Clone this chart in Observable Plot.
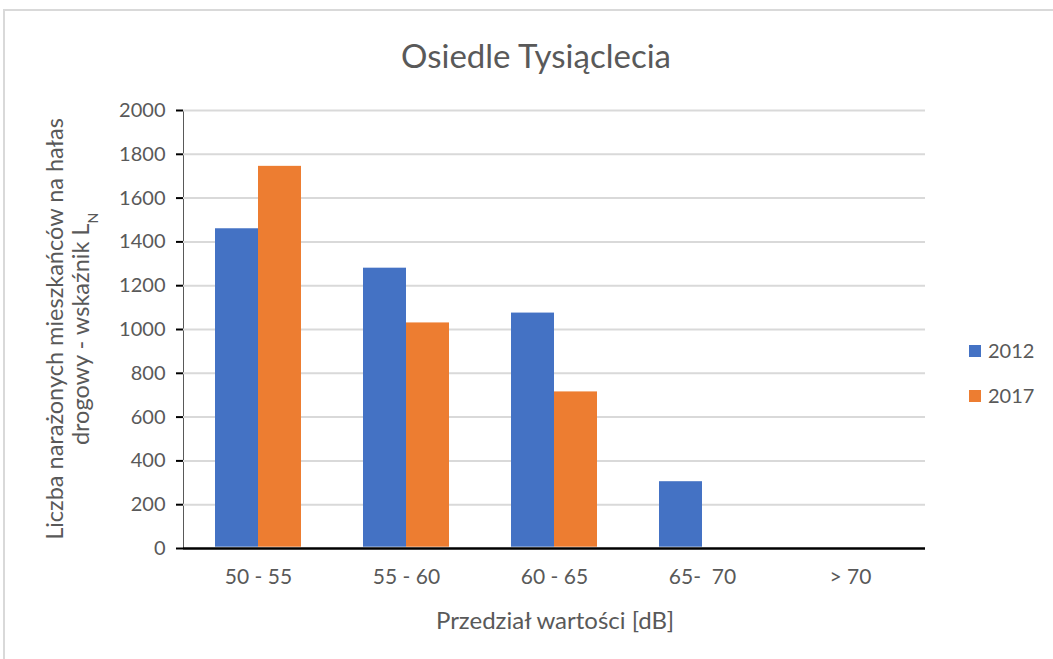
<!DOCTYPE html>
<html>
<head>
<meta charset="utf-8">
<script src="https://cdn.jsdelivr.net/npm/d3@7"></script>
<script src="https://cdn.jsdelivr.net/npm/@observablehq/plot@0.6"></script>
<style>
  html, body { margin: 0; padding: 0; background: #fff; }
  #wrap { position: relative; width: 1053px; height: 659px; overflow: hidden; }
  #border { position: absolute; left: 3px; top: 9px; width: 1060px; height: 700px; border: 2px solid #d9d9d9; box-sizing: border-box; }
  .layer { position: absolute; left: 0; top: 0; }
  svg { font-family: Lato, "Open Sans", sans-serif; }
</style>
</head>
<body>
<div id="wrap"><div id="border"></div><div id="base" class="layer"></div><div id="bars" class="layer"></div></div>
<script>
const categories = ["50 - 55", "55 - 60", "60 - 65", "65-\u00a0\u00a070", "> 70"];
const years = ["2012", "2017"];
const values2012 = [1460, 1280, 1075, 305, 0];
const values2017 = [1745, 1030, 715, 0, 0];
const yTicks = [0, 200, 400, 600, 800, 1000, 1200, 1400, 1600, 1800, 2000];
const seriesColors = ["#4472C4", "#ED7D31"];
const titleText = "Osiedle Tysiąclecia";
const xLabel = "Przedział wartości [dB]";
const yLabelLine1 = "Liczba narażonych mieszkańców na hałas";
const yLabelLine2 = "drogowy - wskaźnik L";
const yLabelSub = "N";

const data = [];
categories.forEach((c, i) => {
  data.push({cat: c, year: years[0], value: values2012[i]});
  data.push({cat: c, year: years[1], value: values2017[i]});
});

const W = 1053, H = 659;
const mL = 183, mR = 128, mT = 110, mB = 111;
const font = "Lato, 'Open Sans', sans-serif";
const band = {paddingInner: 0.42, paddingOuter: 0.21};

// Base layer: grid, axes, baseline
const base = Plot.plot({
  width: W, height: H,
  marginLeft: mL, marginRight: mR, marginTop: mT, marginBottom: mB,
  style: {fontFamily: font, fontSize: "20px", color: "#595959", background: "transparent"},
  x: {domain: categories, ...band, label: null, tickSize: 0, tickPadding: 21},
  y: {domain: [0, 2000], ticks: yTicks, tickSize: 7, tickPadding: 11, label: null, line: true, tickFormat: d => String(d)},
  marks: [
    Plot.ruleY(yTicks.filter(d => d > 0), {stroke: "#d9d9d9", strokeWidth: 2}),
    Plot.ruleY([0], {stroke: "#000", strokeWidth: 2.5})
  ]
});
document.getElementById("base").appendChild(base);

// Bars layer
const bars = Plot.plot({
  width: W, height: H,
  marginLeft: mL, marginRight: mR, marginTop: mT, marginBottom: mB,
  style: {fontFamily: font, background: "transparent"},
  fx: {domain: categories, ...band, axis: null, label: null},
  x: {domain: years, padding: 0, axis: null},
  y: {domain: [0, 2000], axis: null},
  color: {domain: years, range: seriesColors},
  marks: [
    Plot.barY(data, {fx: "cat", x: "year", y: "value", fill: "year", insetLeft: 0, insetRight: 0, insetBottom: 1.3})
  ]
});
document.getElementById("bars").appendChild(bars);

const svg = d3.select(base);
svg.selectAll('g[aria-label="y-axis tick"]').attr("stroke", "#000").attr("stroke-width", 2);
svg.selectAll('g[aria-label="y-axis line"], g[aria-label="frame"]').attr("stroke", "#000").attr("stroke-width", 2);
svg.selectAll('g[aria-label="x-axis tick label"]').style("font-size", "21px");

const y = base.scale("y");
const color = bars.scale("color");
const plotCenterX = (mL + (W - mR)) / 2;

// title
svg.append("text")
  .attr("x", plotCenterX - 18)
  .attr("y", 68)
  .attr("text-anchor", "middle")
  .attr("fill", "#595959")
  .style("font-size", "33px")
  .text(titleText);

// x label
svg.append("text")
  .attr("x", plotCenterX + 1)
  .attr("y", 629)
  .attr("text-anchor", "middle")
  .attr("fill", "#595959")
  .style("font-size", "24px")
  .text(xLabel);

// y label (two lines, rotated)
const yMid = (y.apply(0) + y.apply(2000)) / 2;
const yl = svg.append("text")
  .attr("transform", `translate(63,${yMid}) rotate(-90)`)
  .attr("text-anchor", "middle")
  .attr("fill", "#595959")
  .style("font-size", "23.5px");
yl.append("tspan").attr("x", 0).attr("dy", 0).text(yLabelLine1);
const l2 = yl.append("tspan").attr("x", 0).attr("dy", 26);
l2.append("tspan").text(yLabelLine2);
l2.append("tspan").attr("baseline-shift", "sub").style("font-size", "14px").text(yLabelSub);

// legend
const lg = svg.append("g").attr("transform", "translate(969,351)");
years.forEach((yr, i) => {
  const g = lg.append("g").attr("transform", `translate(0,${i * 45})`);
  g.append("rect").attr("x", 0).attr("y", -6).attr("width", 12).attr("height", 12).attr("fill", color.apply(yr));
  g.append("text").attr("x", 19).attr("y", 0).attr("dy", "0.35em").attr("text-anchor", "start")
    .attr("fill", "#595959").style("font-size", "20px").text(yr);
});
</script>
</body>
</html>
